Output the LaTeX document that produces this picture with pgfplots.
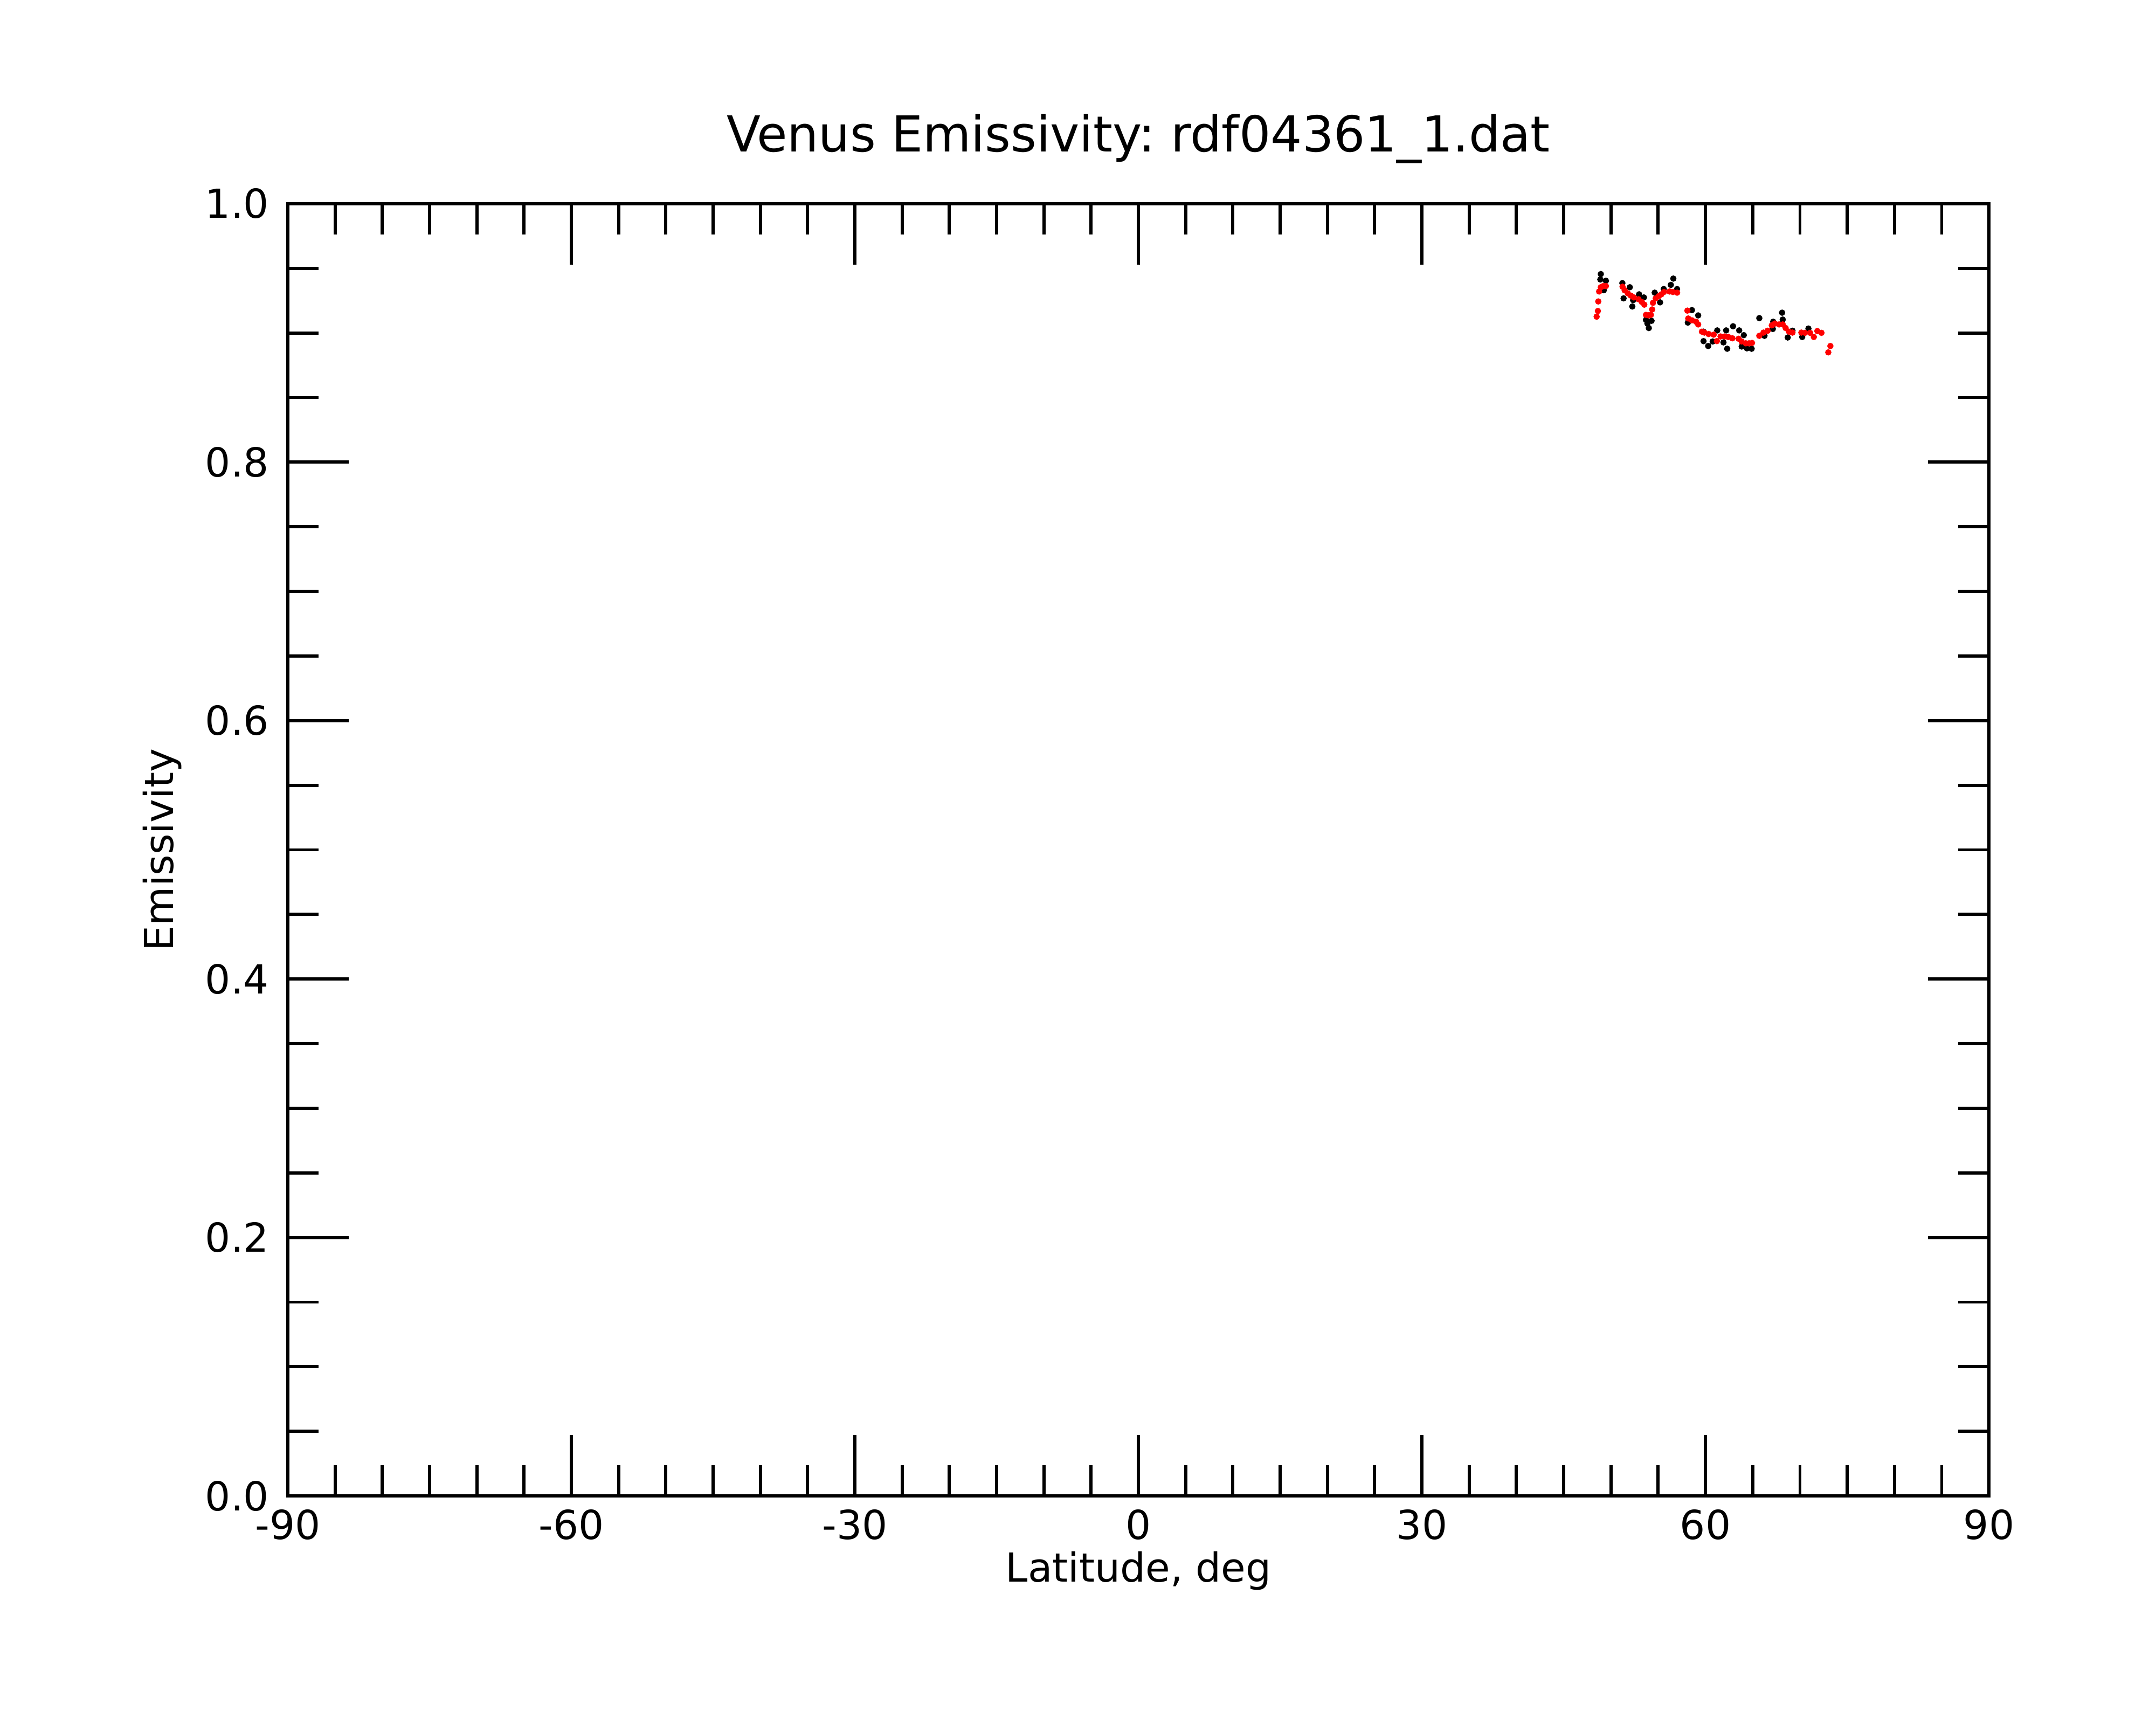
\documentclass[border=0pt]{standalone}
\usepackage{pgfplots}
\pgfplotsset{compat=1.18}
\usepackage{fontspec}
\setmainfont{DejaVu Sans}
\frenchspacing
\begin{document}
\begin{tikzpicture}
\path[use as bounding box] (-1.335in,-1.0625in) rectangle (8.665in,6.9375in);
\begin{axis}[
  scale only axis,
  width=7.89in, height=5.9925in,
  at={(0,0)}, anchor=south west,
  xmin=-90, xmax=90, ymin=0, ymax=1,
  xtick={-90,-60,-30,0,30,60,90},
  xticklabels={-90,-60,-30,0,30,60,90},
  ytick={0,0.2,0.4,0.6,0.8,1.0},
  yticklabels={0.0,0.2,0.4,0.6,0.8,1.0},
  minor x tick num=5,
  minor y tick num=3,
  tick align=inside,
  major tick length=0.2825in,
  minor tick length=0.1425in,
  every tick/.style={line width=1.05pt, black},
  axis line style={line width=1.05pt},
  tick label style={font=\fontsize{13.4}{16}\selectfont},
  xticklabel style={anchor=base, inner sep=0pt, yshift=-0.2in},
  yticklabel style={anchor=east, inner sep=0pt, xshift=-0.085in},
  xlabel={Latitude, deg},
  ylabel={Emissivity},
  label style={font=\fontsize{13.4}{16}\selectfont},
  xlabel style={at={(axis description cs:0.5,0)}, anchor=base, inner sep=0pt, yshift=-0.3975in},
  ylabel style={at={(axis description cs:0,0.5)}, anchor=center, inner sep=0pt, yshift=0.5825in},
  title={Venus Emissivity: rdf04361\_1.dat},
  title style={at={(axis description cs:0.5,1)}, anchor=base, inner sep=0pt, yshift=0.157in, font=\fontsize{16.6}{19}\selectfont},
  clip=false,
]
% raw values (black)
\addplot[only marks, mark=*, mark size=0.85pt, black] coordinates {
(48.93,0.9456) (48.88,0.9414) (49.47,0.9404) (49.25,0.9331)
(51.21,0.9386) (51.34,0.9268) (52.00,0.9354) (52.26,0.9205) (52.35,0.9254)
(52.98,0.9299) (53.49,0.9275) (53.71,0.9101) (53.86,0.9073) (54.01,0.9038)
(54.30,0.9094) (54.63,0.9312) (55.20,0.9237) (55.59,0.9340) (56.34,0.9372)
(56.60,0.9421) (57.00,0.9340)
(58.57,0.9177) (58.14,0.9080) (59.23,0.9136) (59.79,0.9010) (59.80,0.8937)
(60.29,0.8899) (60.77,0.8934) (61.25,0.9020) (61.91,0.8927) (62.19,0.9020)
(62.30,0.8878) (62.92,0.9052) (63.57,0.9020) (64.06,0.8983) (63.84,0.8895)
(64.39,0.8881) (64.89,0.8878)
(65.70,0.9115) (66.25,0.8978) (67.17,0.9087) (67.13,0.9031) (68.11,0.9157)
(68.18,0.9104) (68.71,0.8965) (69.21,0.9017) (70.24,0.8969) (70.90,0.9034)
};
% smoothed values (red)
\addplot[only marks, mark=*, mark size=0.85pt, red] coordinates {
(48.49,0.9126) (48.62,0.9170) (48.66,0.9244) (48.75,0.9321) (48.93,0.9354)
(49.19,0.9363) (49.47,0.9363)
(51.23,0.9358) (51.45,0.9331) (51.78,0.9307) (52.11,0.9289) (52.43,0.9275)
(52.92,0.9261) (53.27,0.9240) (53.53,0.9219) (53.71,0.9140) (53.97,0.9136)
(54.23,0.9140) (54.36,0.9182) (54.45,0.9233) (54.74,0.9268) (55.07,0.9285)
(55.33,0.9299) (55.61,0.9317) (56.21,0.9321) (56.56,0.9317) (57.00,0.9312)
(58.09,0.9173) (58.18,0.9112) (58.57,0.9098) (59.01,0.9087) (59.23,0.9066)
(59.63,0.9010) (59.89,0.9003) (60.33,0.8992) (60.88,0.8987) (61.21,0.8937)
(61.60,0.8973) (62.04,0.8973) (62.41,0.8969) (62.85,0.8959) (63.51,0.8955)
(63.84,0.8934) (64.28,0.8920) (64.61,0.8920) (64.93,0.8923)
(65.70,0.8978) (66.14,0.9003) (66.58,0.9017) (67.02,0.9059) (67.35,0.9073)
(67.79,0.9066) (68.18,0.9066) (68.49,0.9038) (68.84,0.9010) (69.21,0.9003)
(70.15,0.9003) (70.53,0.9001) (71.07,0.9001) (71.47,0.8969) (71.84,0.9015)
(72.28,0.9001) (73.00,0.8850) (73.22,0.8899)
};
\end{axis}
\end{tikzpicture}
\end{document}
